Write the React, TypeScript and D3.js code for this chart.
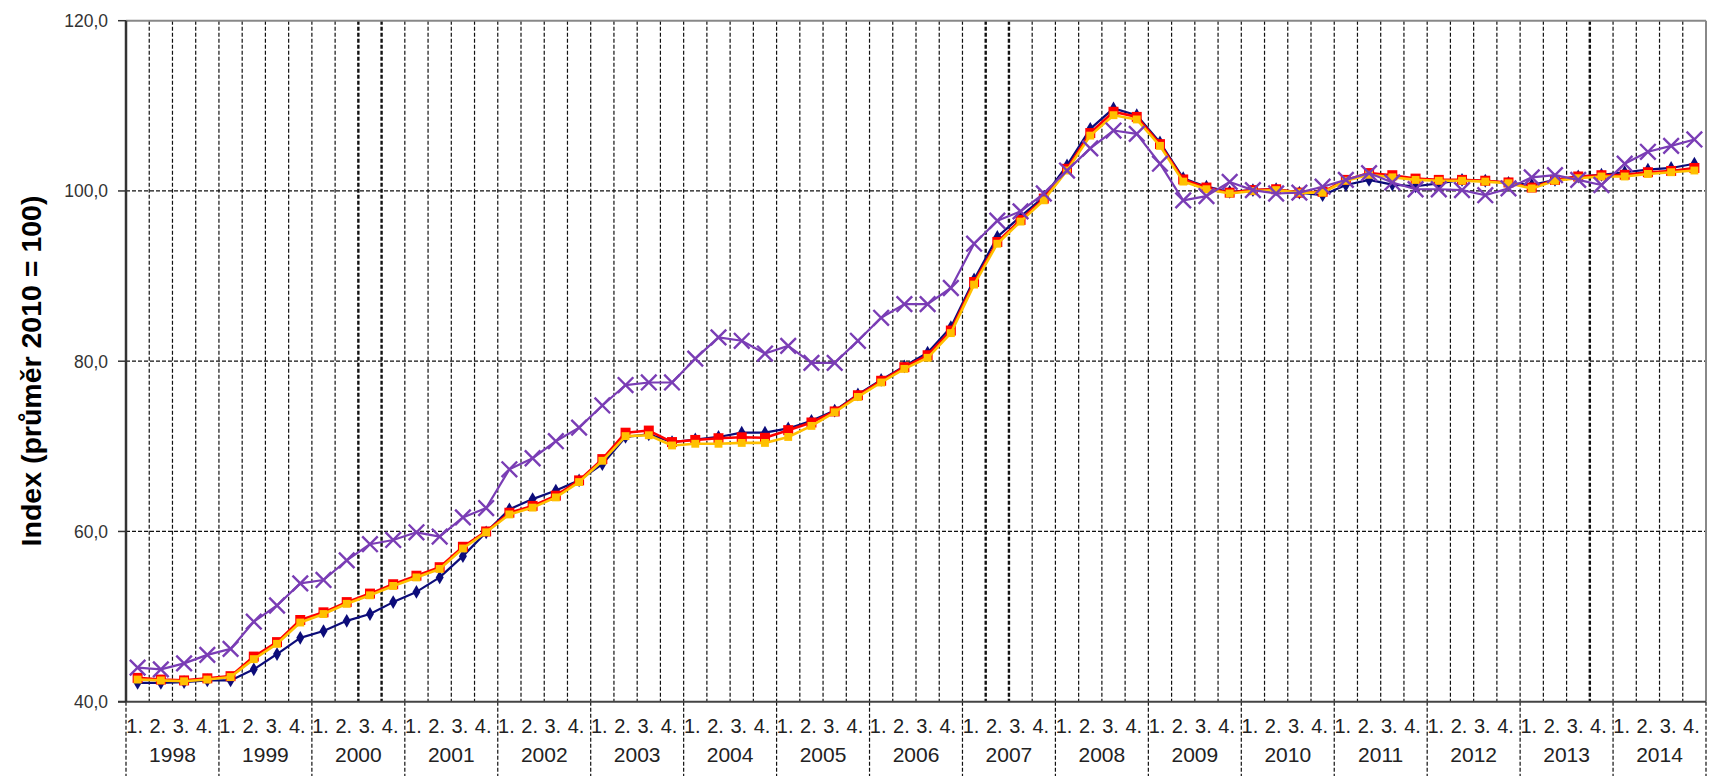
import React, { useEffect, useRef } from "react";
import * as d3 from "d3";

const years = [
  "1998", "1999", "2000", "2001", "2002", "2003", "2004", "2005", "2006",
  "2007", "2008", "2009", "2010", "2011", "2012", "2013", "2014",
];
const quarters = ["1.", "2.", "3.", "4."];
const yTicks = [40, 60, 80, 100, 120];

// quarterly index values, 1998 Q1 .. 2014 Q4
const navySeries = [
  42.2, 42.2, 42.3, 42.5, // 1998
  42.5, 43.8, 45.6, 47.5, // 1999
  48.3, 49.5, 50.3, 51.7, // 2000
  52.9, 54.6, 57.1, 59.9, // 2001
  62.6, 63.8, 64.8, 66.0, // 2002
  67.9, 71.1, 71.4, 70.5, // 2003
  70.8, 71.1, 71.6, 71.6, // 2004
  72.1, 73.0, 74.2, 76.1, // 2005
  77.8, 79.4, 81.0, 84.0, // 2006
  89.6, 94.6, 97.0, 99.3, // 2007
  103.0, 107.3, 109.7, 108.9, // 2008
  105.7, 101.5, 100.5, 99.9, // 2009
  100.1, 100.2, 99.8, 99.5, // 2010
  100.7, 101.3, 100.75, 100.55, // 2011
  100.9, 101.3, 101.2, 100.95, // 2012
  100.7, 101.3, 101.7, 101.9, // 2013
  102.2, 102.5, 102.7, 103.2, // 2014
];

const redSeries = [
  42.8, 42.6, 42.5, 42.75,
  43.0, 45.3, 47.0, 49.6,
  50.5, 51.7, 52.7, 53.8,
  54.8, 55.8, 58.2, 60.0,
  62.2, 63.0, 64.2, 66.0,
  68.5, 71.6, 71.85, 70.5,
  70.75, 70.95, 71.06, 71.0,
  71.9, 72.8, 74.1, 76.0,
  77.7, 79.3, 80.7, 83.6,
  89.3, 94.0, 96.6, 99.1,
  102.6, 106.8, 109.3, 108.7,
  105.5, 101.35, 100.4, 99.8,
  100.1, 100.2, 99.8, 99.9,
  101.3, 102.1, 101.85, 101.45,
  101.3, 101.3, 101.2, 101.0,
  100.4, 101.3, 101.7, 101.85,
  101.9, 102.2, 102.35, 102.7,
];

const yellowSeries = [
  42.6, 42.5, 42.4, 42.6,
  42.9, 45.0, 46.8, 49.3,
  50.3, 51.5, 52.5, 53.6,
  54.6, 55.6, 58.0, 59.9,
  62.0, 62.8, 64.0, 65.8,
  68.3, 71.2, 71.3, 70.1,
  70.3, 70.3, 70.4, 70.4,
  71.1, 72.4, 74.0, 75.8,
  77.5, 79.1, 80.4, 83.3,
  89.0, 93.8, 96.4, 98.9,
  102.4, 106.5, 108.9, 108.4,
  105.3, 101.1, 100.2, 99.7,
  100.0, 100.1, 99.8, 99.8,
  101.2, 101.9, 101.6, 101.3,
  101.2, 101.2, 101.1, 100.9,
  100.3, 101.2, 101.5, 101.7,
  101.7, 102.0, 102.2, 102.4,
];

const purpleSeries = [
  44.0, 43.8, 44.5, 45.5,
  46.2, 49.4, 51.3, 53.9,
  54.3, 56.6, 58.5, 59.0,
  59.9, 59.4, 61.65, 62.75,
  67.3, 68.6, 70.6, 72.2,
  74.8, 77.2, 77.5, 77.5,
  80.3, 82.8, 82.4, 80.9,
  81.8, 79.8, 79.8, 82.4,
  85.1, 86.7, 86.7, 88.6,
  93.8, 96.5, 97.6, 99.7,
  102.4, 105.0, 107.1, 106.7,
  103.2, 98.9, 99.4, 101.06,
  100.1, 99.7, 99.8, 100.5,
  101.3, 102.1, 101.0, 100.2,
  100.2, 100.1, 99.5, 100.3,
  101.6, 101.85, 101.3, 100.7,
  103.2, 104.6, 105.3, 106.05,
];

// gridlines that look heavier in the original
const heavyGridLines = [10, 11, 37, 38, 63];

const FONT = "'Liberation Sans', Arial, sans-serif";

const App = () => {
  const svgRef = useRef(null);

  useEffect(() => {
    const width = 1711;
    const height = 776;
    const left = 126;
    const right = 1706;
    const top = 20.7;
    const bottom = 701.7;

    const svg = d3.select(svgRef.current);
    svg.selectAll("*").remove();

    svg.append("rect").attr("width", width).attr("height", height).attr("fill", "#fff");

    const keys = years.flatMap((yr) => quarters.map((q) => `${yr}-${q}`));
    const x = d3.scaleBand().domain(keys).range([left, right]).padding(0);
    const bw = x.bandwidth();
    const y = d3.scaleLinear().domain([40, 120]).range([bottom, top]);

    // horizontal grid
    svg
      .append("g")
      .selectAll("line")
      .data(yTicks.filter((t) => t > 40 && t < 120))
      .enter()
      .append("line")
      .attr("x1", left)
      .attr("x2", right)
      .attr("y1", (d) => y(d))
      .attr("y2", (d) => y(d))
      .attr("stroke", "#111")
      .attr("stroke-width", 1.2)
      .attr("stroke-dasharray", "4,2");

    // vertical grid, one per quarter boundary
    svg
      .append("g")
      .selectAll("line")
      .data(d3.range(1, keys.length))
      .enter()
      .append("line")
      .attr("x1", (i) => x(keys[i]))
      .attr("x2", (i) => x(keys[i]))
      .attr("y1", top)
      .attr("y2", bottom)
      .attr("stroke", "#111")
      .attr("stroke-width", (i) => (heavyGridLines.includes(i) ? 2.4 : 1.2))
      .attr("stroke-dasharray", "4,2");

    // year separators below the axis
    svg
      .append("g")
      .selectAll("line")
      .data(d3.range(0, years.length + 1))
      .enter()
      .append("line")
      .attr("x1", (k) => (k < years.length ? x(keys[k * 4]) : right))
      .attr("x2", (k) => (k < years.length ? x(keys[k * 4]) : right))
      .attr("y1", bottom)
      .attr("y2", height)
      .attr("stroke", "#111")
      .attr("stroke-width", 1.2)
      .attr("stroke-dasharray", "4,2");

    // frame
    svg.append("line").attr("x1", left).attr("x2", right).attr("y1", top).attr("y2", top)
      .attr("stroke", "#888").attr("stroke-width", 2);
    svg.append("line").attr("x1", right).attr("x2", right).attr("y1", top).attr("y2", bottom)
      .attr("stroke", "#888").attr("stroke-width", 2);
    svg.append("line").attr("x1", left - 8).attr("x2", right).attr("y1", bottom).attr("y2", bottom)
      .attr("stroke", "#444").attr("stroke-width", 2);
    svg.append("line").attr("x1", left).attr("x2", left).attr("y1", top).attr("y2", bottom)
      .attr("stroke", "#333").attr("stroke-width", 2.5);

    // y ticks and labels
    const yAxis = svg.append("g");
    yAxis
      .selectAll("line")
      .data(yTicks)
      .enter()
      .append("line")
      .attr("x1", left - 8)
      .attr("x2", left)
      .attr("y1", (d) => y(d))
      .attr("y2", (d) => y(d))
      .attr("stroke", "#333")
      .attr("stroke-width", 1.5);
    yAxis
      .selectAll("text")
      .data(yTicks)
      .enter()
      .append("text")
      .attr("x", 108)
      .attr("y", (d) => y(d))
      .attr("dy", "0.36em")
      .attr("text-anchor", "end")
      .attr("font-family", FONT)
      .attr("font-size", 17.5)
      .attr("fill", "#333")
      .text((d) => d3.format(".1f")(d).replace(".", ","));

    // quarter labels
    svg
      .append("g")
      .selectAll("text")
      .data(keys)
      .enter()
      .append("text")
      .attr("x", (k) => x(k) + bw / 2 - 3)
      .attr("y", 733)
      .attr("text-anchor", "middle")
      .attr("font-family", FONT)
      .attr("font-size", 20)
      .attr("fill", "#222")
      .text((k) => k.split("-")[1]);

    // year labels
    svg
      .append("g")
      .selectAll("text")
      .data(years)
      .enter()
      .append("text")
      .attr("x", (yr) => x(`${yr}-1.`) + bw * 2)
      .attr("y", 761.5)
      .attr("text-anchor", "middle")
      .attr("font-family", FONT)
      .attr("font-size", 21)
      .attr("fill", "#222")
      .text((yr) => yr);

    // y title
    svg
      .append("text")
      .attr("transform", "translate(41, 371) rotate(-90)")
      .attr("text-anchor", "middle")
      .attr("font-family", FONT)
      .attr("font-weight", "bold")
      .attr("font-size", 28.5)
      .attr("fill", "#000")
      .text("Index (průměr 2010 = 100)");

    const cx = (i) => x(keys[i]) + bw / 2;
    const line = d3
      .line()
      .x((d, i) => cx(i))
      .y((d) => y(d));

    const series = [
      { data: navySeries, color: "#0c0c7a", width: 2.2, symbol: d3.symbolDiamond, size: 55, filled: true },
      { data: redSeries, color: "#ff0000", width: 2.6, symbol: d3.symbolSquare, size: 100, filled: true },
      { data: yellowSeries, color: "#ffc000", width: 2.6, symbol: d3.symbolSquare, size: 62, filled: true },
      { data: purpleSeries, color: "#7a3db5", width: 2.2, symbol: d3.symbolX, size: 160, filled: false },
    ];

    series.forEach((s) => {
      const g = svg.append("g");
      g.append("path")
        .attr("d", line(s.data))
        .attr("fill", "none")
        .attr("stroke", s.color)
        .attr("stroke-width", s.width)
        .attr("stroke-linejoin", "round");
      g.selectAll("path.mark")
        .data(s.data)
        .enter()
        .append("path")
        .attr("class", "mark")
        .attr("transform", (d, i) => `translate(${cx(i)}, ${y(d)})`)
        .attr("d", d3.symbol().type(s.symbol).size(s.size))
        .attr("fill", s.filled ? s.color : "none")
        .attr("stroke", s.filled ? "none" : s.color)
        .attr("stroke-width", s.filled ? 0 : 2.4);
    });
  }, []);

  return (
    <div style={{ position: "absolute", left: 0, top: 0 }}>
      <svg ref={svgRef} width={1711} height={776} style={{ display: "block" }} />
    </div>
  );
};

export default App;
